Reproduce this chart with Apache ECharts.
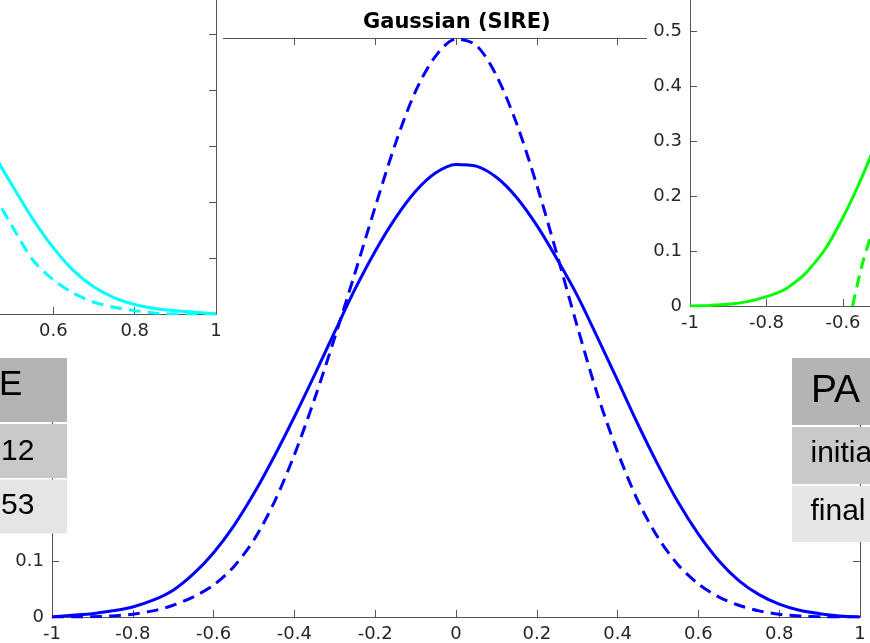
<!DOCTYPE html>
<html>
<head>
<meta charset="utf-8">
<script src="https://cdn.jsdelivr.net/npm/echarts@6/dist/echarts.min.js"></script>
<style>
html,body{margin:0;padding:0;background:#fff;}
#chart{width:870px;height:643px;}
</style>
</head>
<body>
<div id="chart"></div>
<script>
// ---- data ----
const mainTitle = 'Gaussian (SIRE)';
const mainX = [-1,-0.95,-0.9,-0.85,-0.8,-0.75,-0.7,-0.65,-0.6,-0.55,-0.5,-0.45,-0.4,-0.35,-0.3,-0.25,-0.2,-0.15,-0.1,-0.05,0,0.05,0.1,0.15,0.2,0.25,0.3,0.35,0.4,0.45,0.5,0.55,0.6,0.65,0.7,0.75,0.8,0.85,0.9,0.95,1];
const mainSolid = [0,0.003,0.006,0.011,0.018,0.030,0.048,0.077,0.115,0.163,0.221,0.287,0.358,0.433,0.510,0.586,0.654,0.713,0.761,0.794,0.809,0.806,0.786,0.750,0.700,0.640,0.575,0.500,0.423,0.345,0.272,0.205,0.148,0.101,0.065,0.040,0.023,0.012,0.006,0.002,0];
const mainDashed = [0,0,0.0005,0.002,0.005,0.011,0.021,0.036,0.057,0.090,0.138,0.205,0.290,0.390,0.500,0.615,0.733,0.846,0.940,1.003,1.033,1.022,0.968,0.882,0.772,0.648,0.520,0.398,0.295,0.208,0.142,0.093,0.059,0.036,0.021,0.011,0.005,0.002,0.0005,0,0];

const cyanX = [0.45,0.5,0.55,0.6,0.65,0.7,0.75,0.8,0.85,0.9,0.95,1];
const cyanSolid = [0.29,0.228,0.169,0.118,0.077,0.048,0.029,0.017,0.010,0.006,0.003,0];
const cyanDashed = [0.218,0.155,0.096,0.061,0.037,0.021,0.012,0.006,0.002,0,0,0];

const greenX = [-1,-0.95,-0.9,-0.85,-0.8,-0.75,-0.7,-0.65,-0.6,-0.55,-0.5];
const greenSolid = [0,0.001,0.003,0.008,0.017,0.031,0.058,0.100,0.161,0.235,0.320];
const greenDashX = [-0.575,-0.55,-0.5];
const greenDashed = [0,0.075,0.19];

const leftTable = ['E','12','53'];
const rightTable = ['PA','initia','final'];

// ---- chart ----
const pair = (xs, ys) => xs.map((x,i)=>[x, ys[i]]);
const AX = '#555';
const TXT = '#262626';
const lblFont = {fontFamily:'DejaVu Sans', fontSize:18, color:TXT};

function axisCommon(extra){
  return Object.assign({
    splitLine:{show:false},
    axisLine:{show:true, onZero:false, lineStyle:{color:AX, width:1}},
    axisTick:{show:true, inside:true, length:7, lineStyle:{color:AX, width:1}},
    axisLabel:Object.assign({show:true, margin:8, showMinLabel:true, showMaxLabel:true}, lblFont)
  }, extra);
}

const chart = echarts.init(document.getElementById('chart'), null, {renderer:'canvas'});

const DASH = [12,7];

const option = {
  animation:false,
  backgroundColor:'#fff',
  title:{
    text: mainTitle, left: 358, top: 7,
    textStyle:{fontFamily:'DejaVu Sans', fontWeight:'bold', fontSize:21, color:'#000'}
  },
  grid:[
    {left:52, top:38, width:808, height:579, containLabel:false, outerBoundsMode:'none'},
    {left:-27.9, top:-22, width:243.9, height:336, containLabel:false, outerBoundsMode:'none', zlevel:1},
    {left:690, top:-24, width:229.5, height:330, containLabel:false, outerBoundsMode:'none', zlevel:1}
  ],
  xAxis:[
    axisCommon({type:'value', gridIndex:0, position:'bottom', min:-1, max:1, interval:0.2}),
    axisCommon({type:'value', gridIndex:0, position:'top', min:-1, max:1, interval:0.2, axisLabel:{show:false}}),
    axisCommon({type:'value', gridIndex:1, position:'bottom', min:0.4, max:1, interval:0.2, zlevel:1, z:5}),
    axisCommon({type:'value', gridIndex:2, position:'bottom', min:-1, max:-0.4, interval:0.2, zlevel:1, z:5})
  ],
  yAxis:[
    axisCommon({type:'value', gridIndex:0, position:'left', min:0, max:1.035, interval:0.1,
      axisLabel:Object.assign({show:true, margin:8, formatter:v => (v < 0.15 ? String(v) : '')}, lblFont)}),
    axisCommon({type:'value', gridIndex:0, position:'right', min:0, max:1.035, interval:0.1, axisLabel:{show:false}}),
    axisCommon({type:'value', gridIndex:1, position:'right', min:0, max:0.6, interval:0.1, axisLabel:{show:false}, zlevel:1, z:5}),
    axisCommon({type:'value', gridIndex:2, position:'left', min:0, max:0.6, interval:0.1, zlevel:1, z:5})
  ],
  graphic:{elements:[
    // white areas of the overlapping panels
    {type:'rect', zlevel:1, z:0, shape:{x:0, y:0, width:223, height:358}, style:{fill:'#fff'}},
    {type:'rect', zlevel:1, z:0, shape:{x:647, y:0, width:223, height:358}, style:{fill:'#fff'}},
    // left table
    {type:'rect', zlevel:2, shape:{x:-10, y:358, width:77, height:64}, style:{fill:'#b4b4b4'}},
    {type:'rect', zlevel:2, shape:{x:-10, y:424, width:77, height:54}, style:{fill:'#c9c9c9'}},
    {type:'rect', zlevel:2, shape:{x:-10, y:479.5, width:77, height:54}, style:{fill:'#e5e5e5'}},
    {type:'text', zlevel:2, z:3, x:-1, y:385.4, style:{text:leftTable[0], fontFamily:'Liberation Sans', fontSize:35, fill:'#000', verticalAlign:'middle'}},
    {type:'text', zlevel:2, z:3, x:1, y:452.2, style:{text:leftTable[1], fontFamily:'Liberation Sans', fontSize:30, fill:'#000', verticalAlign:'middle'}},
    {type:'text', zlevel:2, z:3, x:1, y:506.2, style:{text:leftTable[2], fontFamily:'Liberation Sans', fontSize:30, fill:'#000', verticalAlign:'middle'}},
    // right table
    {type:'rect', zlevel:2, shape:{x:792, y:358, width:100, height:67}, style:{fill:'#b4b4b4'}},
    {type:'rect', zlevel:2, shape:{x:792, y:427, width:100, height:57}, style:{fill:'#c9c9c9'}},
    {type:'rect', zlevel:2, shape:{x:792, y:486, width:100, height:56}, style:{fill:'#e5e5e5'}},
    {type:'text', zlevel:2, z:3, x:811, y:391, style:{text:rightTable[0], fontFamily:'Liberation Sans', fontSize:39, fill:'#000', verticalAlign:'middle'}},
    {type:'text', zlevel:2, z:3, x:810.5, y:454.2, style:{text:rightTable[1], fontFamily:'Liberation Sans', fontSize:30, fill:'#000', verticalAlign:'middle'}},
    {type:'text', zlevel:2, z:3, x:810.5, y:512.2, style:{text:rightTable[2], fontFamily:'Liberation Sans', fontSize:30, fill:'#000', verticalAlign:'middle'}}
  ]},
  series:[
    {type:'line', xAxisIndex:0, yAxisIndex:0, data:pair(mainX, mainSolid), showSymbol:false, smooth:0.3,
      lineStyle:{color:'#0000ff', width:3}},
    {type:'line', xAxisIndex:0, yAxisIndex:0, data:pair(mainX, mainDashed), showSymbol:false, smooth:0.3,
      lineStyle:{color:'#0000ff', width:3, type:DASH}},
    {type:'line', xAxisIndex:2, yAxisIndex:2, zlevel:1, z:6, data:pair(cyanX, cyanSolid), showSymbol:false, smooth:0.3,
      lineStyle:{color:'#00ffff', width:3}},
    {type:'line', xAxisIndex:2, yAxisIndex:2, zlevel:1, z:6, data:pair(cyanX, cyanDashed), showSymbol:false, smooth:0.3,
      lineStyle:{color:'#00ffff', width:3, type:DASH}},
    {type:'line', xAxisIndex:3, yAxisIndex:3, zlevel:1, z:6, data:pair(greenX, greenSolid), showSymbol:false, smooth:0.2,
      lineStyle:{color:'#00ff00', width:3}},
    {type:'line', xAxisIndex:3, yAxisIndex:3, zlevel:1, z:6, data:pair(greenDashX, greenDashed), showSymbol:false, smooth:0.2,
      lineStyle:{color:'#00ff00', width:3, type:DASH}}
  ]
};
chart.setOption(option);
</script>
</body>
</html>
